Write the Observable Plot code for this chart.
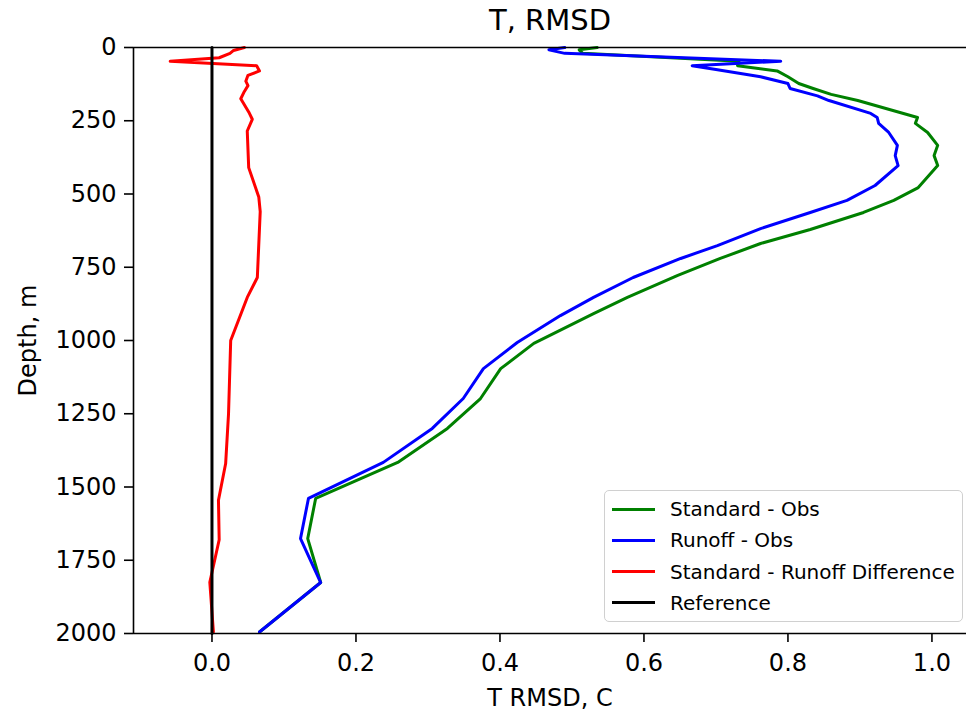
<!DOCTYPE html>
<html>
<head>
<meta charset="utf-8">
<script src="https://cdn.jsdelivr.net/npm/d3@7"></script>
<script src="https://cdn.jsdelivr.net/npm/@observablehq/plot@0.6"></script>
<style>
  html, body { margin: 0; padding: 0; background: white; }
  #wrap { position: relative; width: 966px; height: 716px; font-family: "DejaVu Sans", sans-serif; }
  #legend { position: absolute; left: 604px; top: 490px; width: 359px; height: 132px;
            border: 1.6px solid #d0d0d0; border-radius: 5px; background: rgba(255,255,255,0.85);
            box-sizing: border-box; font-size: 20px; color: #000; }
  .row { position: absolute; left: 0; height: 30px; display: flex; align-items: center; }
  .sw { width: 43px; height: 3px; margin-left: 7px; margin-right: 15px; }
</style>
</head>
<body>
<div id="wrap"><div id="chart"></div><div id="legend"></div></div>
<script>
// ---- data ----
const title = "T, RMSD";
const xLabel = "T RMSD, C";
const yLabel = "Depth, m";

const depthStd = [0, 8, 20, 47, 62, 80, 100, 123, 140, 160, 181, 239, 259, 290, 334, 369, 403, 478, 522, 563, 621, 669, 720, 778, 853, 908, 1010, 1096, 1198, 1300, 1416, 1539, 1676, 1826, 1995];
const valStd   = [0.535, 0.51, 0.515, 0.732, 0.73, 0.785, 0.80, 0.815, 0.835, 0.86, 0.897, 0.980, 0.977, 0.994, 1.008, 1.003, 1.008, 0.981, 0.947, 0.905, 0.831, 0.762, 0.706, 0.647, 0.577, 0.530, 0.447, 0.401, 0.373, 0.327, 0.258, 0.144, 0.133, 0.151, 0.066];

const depthRun = [0, 8, 20, 47, 62, 75, 100, 123, 140, 165, 181, 225, 239, 259, 290, 334, 369, 403, 471, 522, 563, 618, 676, 720, 785, 853, 915, 1007, 1096, 1198, 1300, 1416, 1539, 1676, 1826, 1995];
const valRun   = [0.49, 0.468, 0.49, 0.79, 0.667, 0.70, 0.762, 0.80, 0.803, 0.841, 0.857, 0.915, 0.924, 0.926, 0.940, 0.952, 0.949, 0.953, 0.921, 0.882, 0.831, 0.762, 0.702, 0.651, 0.585, 0.530, 0.484, 0.424, 0.377, 0.349, 0.306, 0.238, 0.134, 0.123, 0.151, 0.066];

const depthDiff = [0, 10, 20, 35, 47, 62, 80, 95, 115, 130, 150, 175, 220, 245, 285, 410, 510, 560, 785, 853, 1000, 1250, 1420, 1545, 1680, 1825, 1995];
const valDiff   = [0.045, 0.03, 0.025, 0.01, -0.058, 0.062, 0.066, 0.05, 0.047, 0.05, 0.045, 0.040, 0.051, 0.056, 0.049, 0.051, 0.065, 0.067, 0.063, 0.049, 0.026, 0.023, 0.019, 0.009, 0.010, -0.003, 0.002];

const depthRef = [0, 2000];
const valRef   = [0, 0];

const seriesNames  = ["Standard - Obs", "Runoff - Obs", "Standard - Runoff Difference", "Reference"];
const seriesColors = ["#008000", "#0000ff", "#ff0000", "#000000"];

const xTicks = [0, 0.2, 0.4, 0.6, 0.8, 1.0];
const yTicks = [0, 250, 500, 750, 1000, 1250, 1500, 1750, 2000];
const xDomain = [-0.109, 1.048];
const yDomain = [0, 2000];

// ---- build tables ----
const toRows = (ds, vs) => ds.map((d, i) => ({depth: d, value: vs[i]}));
const std = toRows(depthStd, valStd);
const run = toRows(depthRun, valRun);
const diff = toRows(depthDiff, valDiff);
const ref = toRows(depthRef, valRef);

const chart = Plot.plot({
  width: 966,
  height: 716,
  marginLeft: 133,
  marginTop: 47,
  marginRight: 0,
  marginBottom: 83,
  style: {fontFamily: "DejaVu Sans", fontSize: "24px", background: "white", color: "black", overflow: "visible"},
  x: {domain: xDomain},
  y: {domain: yDomain, reverse: true},
  marks: [
    Plot.axisX({ticks: xTicks, tickSize: 9, tickPadding: 11, fontSize: 24, tickFormat: d => d.toFixed(1), label: null, strokeWidth: 1.6}),
    Plot.axisY({ticks: yTicks, tickSize: 9, tickPadding: 8, fontSize: 24, tickFormat: d => String(d), label: null, strokeWidth: 1.6}),
    Plot.line(std, {x: "value", y: "depth", stroke: seriesColors[0], strokeWidth: 3}),
    Plot.line(run, {x: "value", y: "depth", stroke: seriesColors[1], strokeWidth: 3}),
    Plot.line(diff, {x: "value", y: "depth", stroke: seriesColors[2], strokeWidth: 3}),
    Plot.line(ref, {x: "value", y: "depth", stroke: seriesColors[3], strokeWidth: 3}),
    Plot.ruleY(yDomain, {stroke: "black", strokeWidth: 1.6}),
    Plot.ruleX([xDomain[0]], {stroke: "black", strokeWidth: 1.6}),
    Plot.text([title], {frameAnchor: "top", lineAnchor: "middle", textAnchor: "middle", dy: -27, fontSize: 29, text: d => d}),
    Plot.text([xLabel], {frameAnchor: "bottom", lineAnchor: "middle", textAnchor: "middle", dy: 65, fontSize: 24, text: d => d}),
    Plot.text([yLabel], {frameAnchor: "left", lineAnchor: "middle", textAnchor: "middle", dx: -105.5, rotate: -90, fontSize: 24, text: d => d})
  ]
});
document.getElementById("chart").appendChild(chart);

// ---- legend ----
const leg = document.getElementById("legend");
seriesNames.forEach((name, i) => {
  const row = document.createElement("div");
  row.className = "row";
  row.style.top = (3 + i * 31.3) + "px";
  const sw = document.createElement("div");
  sw.className = "sw";
  sw.style.background = seriesColors[i];
  const t = document.createElement("span");
  t.textContent = name;
  row.appendChild(sw);
  row.appendChild(t);
  leg.appendChild(row);
});
</script>
</body>
</html>
